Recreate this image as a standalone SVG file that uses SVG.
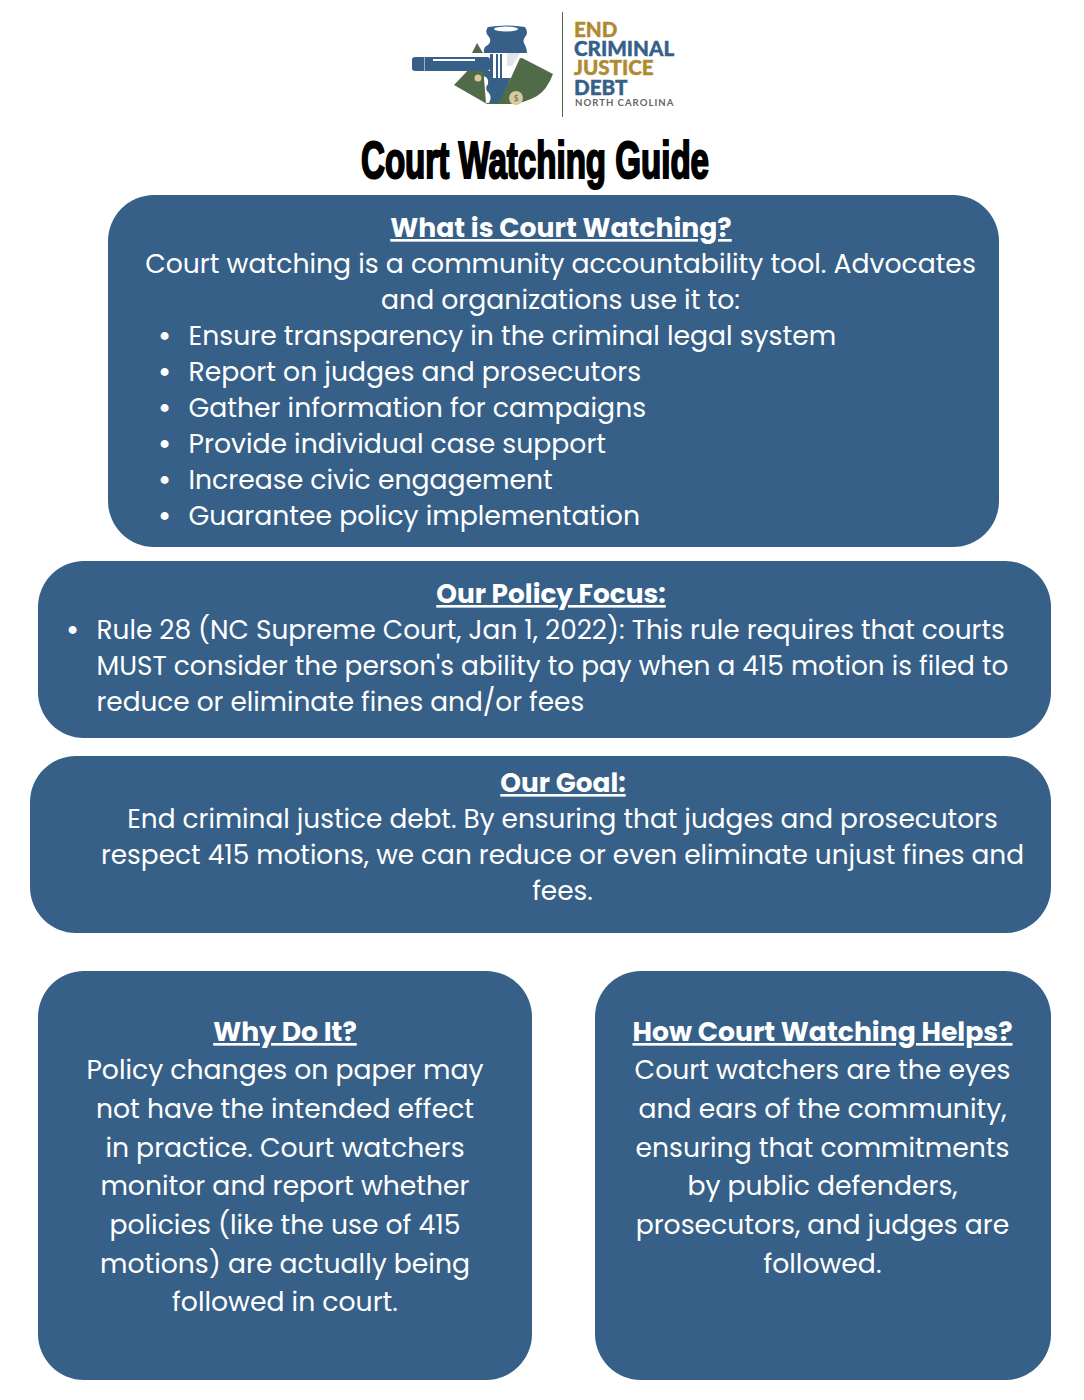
<svg xmlns="http://www.w3.org/2000/svg" width="1084" height="1400" viewBox="0 0 1084 1400">
<style>
.box{fill:#366088}
.t{font-family:Poppins,"Open Sans","Noto Sans",sans-serif;font-size:26.67px;fill:#fff}
.m{text-anchor:middle}
.b{font-size:32px}
.h{font-family:Poppins,"Open Sans",sans-serif;font-size:26.67px;font-weight:700;fill:#fff;text-decoration:underline;text-anchor:middle}
.n{font-size:26.37px}
.lg{font-family:Lato,sans-serif;font-weight:900;font-size:20.6px;stroke-width:.4px}
.blue{fill:#366088}
.gold{fill:#b08a33}
.lg.blue{stroke:#366088}
.lg.gold{stroke:#b08a33}
</style>
<rect width="1084" height="1400" fill="#fff"/>
<g id="logo">
<path d="M472 53L477 43L483 53Z" fill="#4f6b48"/>
<path d="M454 85L474 64L522 58L553 74Q547 90 537 96Q525 103 510 104H487Z" fill="#4f6b48"/>
<path d="M488 53H522L520 58L510 80L497 103H486L484 78Z" fill="#fff"/>
<path d="M490 54H493V78H490ZM496 54H498V78H496ZM500 54H502V78H500Z" class="blue"/>
<path d="M507 53H520L512 66H507Z" fill="#dfe6ec"/>
<rect x="412" y="57" width="78" height="14" rx="3" class="blue"/>
<rect x="424" y="57" width="1" height="14" fill="#fff" opacity=".5"/>
<rect x="433" y="59" width="42" height="2" fill="#fff"/>
<path d="M484 71H490V78H511L505 90L498 103H489Q493 96 487 91Q485 87 488 84Q489 78 484 76Z" class="blue"/>
<path d="M488 27Q506 24 525 27Q529 33 525 37Q522 41 525 45Q527 49 527 53H484Q483 47 488 45Q492 41 489 37Q484 32 488 27Z" class="blue"/>
<ellipse cx="506" cy="29" rx="12" ry="2.5" fill="#fff"/>
<circle cx="478" cy="78" r="3.5" fill="#d8c7a0"/>
<circle cx="516" cy="98" r="7" fill="#d8c7a0"/>
<text x="516" y="101" font-family="Lato,sans-serif" font-size="8" text-anchor="middle" fill="#4f6b48">$</text>
<rect x="562" y="12" width="1" height="105" fill="#4f6b48"/>
<text class="lg gold" x="574" y="37">END</text>
<text class="lg blue" x="574" y="56">CRIMINAL</text>
<text class="lg gold" x="574" y="75">JUSTICE</text>
<text class="lg blue" x="574" y="95">DEBT</text>
<text x="575" y="106" font-family="Lato,sans-serif" font-weight="700" font-size="9.6" letter-spacing="1" fill="#666">NORTH CAROLINA</text>
</g>
<text id="title" x="535" y="178" text-anchor="middle" font-family="Liberation Sans,sans-serif" font-weight="700" font-size="52" stroke="#000" stroke-width="2.2" textLength="348" lengthAdjust="spacingAndGlyphs">Court Watching Guide</text>
<g id="what">
<rect class="box" x="108" y="195" width="891" height="352" rx="46"/>
<text class="h" x="561" y="237">What is Court Watching?</text>
<text class="t m" x="560.5" y="273">Court watching is a community accountability tool. Advocates</text>
<text class="t m" x="560.5" y="309">and organizations use it to:</text>
<text class="t b" x="158" y="347">•</text><text class="t" x="188.5" y="345">Ensure transparency in the criminal legal system</text>
<text class="t b" x="158" y="383">•</text><text class="t" x="188.5" y="381">Report on judges and prosecutors</text>
<text class="t b" x="158" y="419">•</text><text class="t" x="188.5" y="417">Gather information for campaigns</text>
<text class="t b" x="158" y="455">•</text><text class="t" x="188.5" y="453">Provide individual case support</text>
<text class="t b" x="158" y="491">•</text><text class="t" x="188.5" y="489">Increase civic engagement</text>
<text class="t b" x="158" y="527">•</text><text class="t" x="188.5" y="525">Guarantee policy implementation</text>
</g>
<g id="focus">
<rect class="box" x="38" y="561" width="1013" height="177" rx="46"/>
<text class="h n" x="551" y="603">Our Policy Focus:</text>
<text class="t b" x="66" y="641">•</text><text class="t n" x="96.5" y="639">Rule 28 (NC Supreme Court, Jan 1, 2022): This rule requires that courts</text>
<text class="t n" x="96.5" y="675">MUST consider the person's ability to pay when a 415 motion is filed to</text>
<text class="t n" x="96.5" y="711">reduce or eliminate fines and/or fees</text>
</g>
<g id="goal">
<rect class="box" x="30" y="756" width="1021" height="177" rx="46"/>
<text class="h n" x="563" y="792">Our Goal:</text>
<text class="t n m" x="562.5" y="828">End criminal justice debt. By ensuring that judges and prosecutors</text>
<text class="t n m" x="562.5" y="864">respect 415 motions, we can reduce or even eliminate unjust fines and</text>
<text class="t n m" x="562.5" y="900">fees.</text>
</g>
<g id="why">
<rect class="box" x="38" y="971" width="494" height="409" rx="46"/>
<text class="h" x="285" y="1041">Why Do It?</text>
<text class="t m" x="285" y="1079">Policy changes on paper may</text>
<text class="t m" x="285" y="1118">not have the intended effect</text>
<text class="t m" x="285" y="1157">in practice. Court watchers</text>
<text class="t m" x="285" y="1195">monitor and report whether</text>
<text class="t m" x="285" y="1234">policies (like the use of 415</text>
<text class="t m" x="285" y="1273">motions) are actually being</text>
<text class="t m" x="285" y="1311">followed in court.</text>
</g>
<g id="how">
<rect class="box" x="595" y="971" width="456" height="409" rx="46"/>
<text class="h" x="822.5" y="1041">How Court Watching Helps?</text>
<text class="t m" x="822.5" y="1079">Court watchers are the eyes</text>
<text class="t m" x="822.5" y="1118">and ears of the community,</text>
<text class="t m" x="822.5" y="1157">ensuring that commitments</text>
<text class="t m" x="822.5" y="1195">by public defenders,</text>
<text class="t m" x="822.5" y="1234">prosecutors, and judges are</text>
<text class="t m" x="822.5" y="1273">followed.</text>
</g>
</svg>
